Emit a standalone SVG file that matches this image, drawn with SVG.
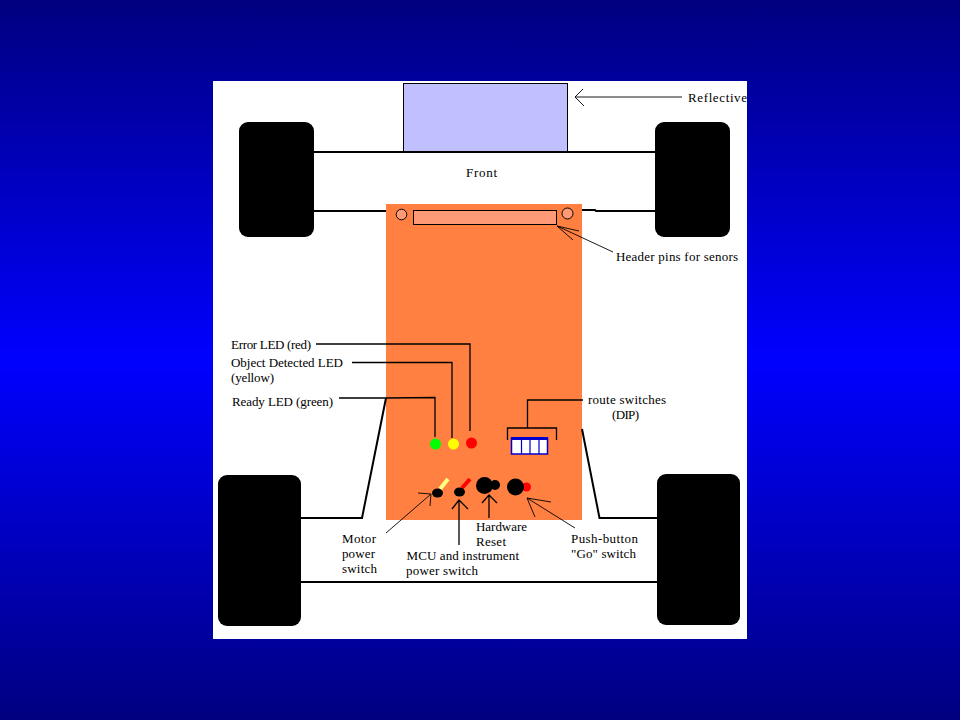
<svg xmlns="http://www.w3.org/2000/svg" width="960" height="720" viewBox="0 0 960 720">
<style>
text{font-family:"Liberation Serif","Times New Roman",serif;font-size:13px;fill:#000}
.w{fill:#000}
.t{stroke:#000;stroke-width:2;fill:none}
.n{stroke:#000;stroke-width:1.300;fill:none}
.h{stroke:#000;stroke-width:.9;fill:none}
</style>
<defs>
<linearGradient id="bg" x1="0" y1="0" x2="0" y2="1">
<stop offset="0" stop-color="#000080"/>
<stop offset=".5" stop-color="#0000ff"/>
<stop offset="1" stop-color="#000080"/>
</linearGradient>
</defs>
<rect id="background" width="960" height="720" fill="url(#bg)"/>
<rect id="page" x="213" y="81" width="534" height="558" fill="#fff"/>
<g id="board"><rect x="386" y="204" width="196" height="316" fill="#ff8040"/></g>
<g id="connectors">
<path class="t" d="M314 152H655M314 211H386M582 210H595L596 211H655"/>
<path class="t" d="M386 398L362 518H301M582 429L599.500 518H657M301 582H657"/>
<path class="n" d="M316 344H470V431M352 362.500H452V438M339 398H386L435 397.500V437M583 400H527.500V428M507.500 440V428H556.500V440"/>
<path class="n" d="M459 545V500M452 509L459 500L468 509M489 518V495M482 503L489 495L497 503"/>
<path class="h" d="M575 97H682M583 89L575 97L584 106"/>
<path class="h" d="M613 252L557 226M579 231L557 226L573 240"/>
<path class="h" d="M386 533L431 494M418 493L431 494L430 506"/>
<path class="h" d="M575 528L527 498M551 502L527 498L535 517"/>
</g>
<g id="reflective">
<rect x="403.500" y="83.500" width="164" height="68" fill="#c0c0ff" stroke="#000"/>
<text x="688" y="102" textLength="59">Reflective</text>
</g>
<g id="wheel-front-left"><rect class="w" x="239" y="122" width="75" height="115" rx="9"/></g>
<g id="wheel-front-right"><rect class="w" x="655" y="122" width="75" height="115" rx="9"/></g>
<g id="wheel-rear-left"><rect class="w" x="218" y="475" width="83" height="151" rx="9"/></g>
<g id="wheel-rear-right"><rect class="w" x="657" y="474" width="83" height="151" rx="9"/></g>
<g id="front-label"><text x="466" y="177" textLength="31">Front</text></g>
<g id="header-pins">
<rect x="413.500" y="210.500" width="143" height="14" fill="#ff9a76" stroke="#000"/>
<circle cx="401.500" cy="214.500" r="5.300" fill="#ff9a76" stroke="#000"/>
<circle cx="567.500" cy="213.500" r="5.500" fill="#ff9a76" stroke="#000"/>
<text x="616" y="261" textLength="122">Header pins for senors</text>
</g>
<g id="led-error">
<circle cx="471.500" cy="443" r="5.500" fill="#f00"/>
<text x="231" y="349" textLength="80">Error LED (red)</text>
</g>
<g id="led-object">
<circle cx="453.500" cy="444" r="5.500" fill="#ff0"/>
<text x="231" y="367" textLength="112">Object Detected LED</text>
<text x="231" y="382" textLength="43">(yellow)</text>
</g>
<g id="led-ready">
<circle cx="435.500" cy="444" r="5.500" fill="#0f0"/>
<text x="232" y="406" textLength="101">Ready LED (green)</text>
</g>
<g id="dip-switch">
<rect x="511.500" y="438" width="36" height="16" fill="#fff" stroke="#00c" stroke-width="1.500"/>
<path d="M511 438.500H548" stroke="#00c" stroke-width="3"/>
<path d="M521.500 438V454M530 438V454M539 438V454" stroke="#00c" stroke-width="1.200"/>
<text x="588" y="404" textLength="78">route switches</text>
<text x="612" y="419" textLength="27">(DIP)</text>
</g>
<g id="motor-switch">
<path d="M440 489L448 479" stroke="#ffff80" stroke-width="4"/>
<ellipse cx="437.500" cy="493" rx="5.500" ry="4.500" fill="#000"/>
<text x="342" y="543" textLength="34">Motor</text>
<text x="342" y="558" textLength="33">power</text>
<text x="342" y="573" textLength="35">switch</text>
</g>
<g id="mcu-switch">
<path d="M462 488L470 479" stroke="#f00" stroke-width="4"/>
<ellipse cx="459.500" cy="492" rx="5.500" ry="4.500" fill="#000"/>
<text x="406.500" y="560" textLength="112.500">MCU and instrument</text>
<text x="406" y="575" textLength="72">power switch</text>
</g>
<g id="reset-button">
<circle cx="484.500" cy="485.500" r="8.500" fill="#000"/>
<circle cx="495" cy="485" r="5" fill="#000"/>
<text x="476" y="531" textLength="51">Hardware</text>
<text x="476" y="546" textLength="30">Reset</text>
</g>
<g id="go-button">
<circle cx="526.500" cy="487" r="4.500" fill="#f00"/>
<circle cx="515.500" cy="487" r="8.500" fill="#000"/>
<text x="571" y="543" textLength="67">Push-button</text>
<text x="571" y="558" textLength="65">"Go" switch</text>
</g>
</svg>
